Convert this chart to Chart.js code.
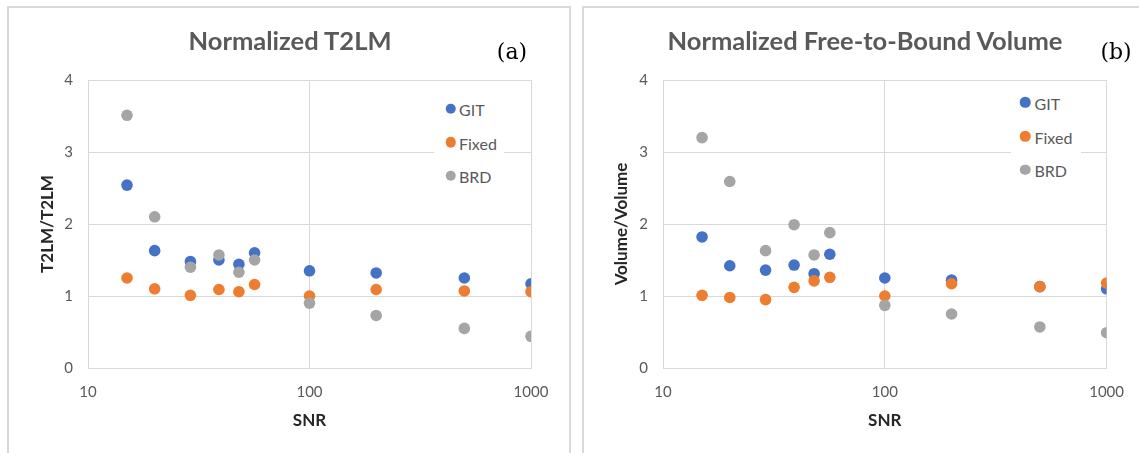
<!DOCTYPE html>
<html lang="en">
<head>
<meta charset="UTF-8">
<title>Normalized T2LM and Free-to-Bound Volume</title>
<script src="https://cdn.jsdelivr.net/npm/chart.js"></script>
<style>
  body { margin: 0; background: #fff; width: 1139px; height: 453px; overflow: hidden; position: relative; font-family: Lato, sans-serif; }
  .panel { position: absolute; top: 6px; border: 2px solid #d9d9d9; border-bottom: none; height: 460px; }
  canvas { position: absolute; top: 0; }
  .title { position: absolute; transform: translate(-50%, -50%); font: bold 25.5px Lato, sans-serif; color: #595959; white-space: nowrap; }
  .tag { position: absolute; transform: translate(-50%, -50%); font: 22px "DejaVu Serif", serif; color: #000; }
  .legend { position: absolute; background: #fff; width: 70px; height: 105px; }
  .item { position: absolute; font: 16px Lato, sans-serif; color: #595959; white-space: nowrap; transform: translateY(-50%); }
  .dot { position: absolute; width: 10.5px; height: 10.5px; border-radius: 50%; transform: translate(-50%, -50%); }
</style>
</head>
<body>
<div class="panel" style="left:7px; width:560px;"></div>
<div class="panel" style="left:582px; width:600px; border-right:none;"></div>

<canvas id="chartA" width="575" height="453" style="left:0;"></canvas>
<canvas id="chartB" width="564" height="453" style="left:575px;"></canvas>

<div class="title" style="left:290px; top:40px;">Normalized T2LM</div>
<div class="title" style="left:865px; top:40px;">Normalized Free-to-Bound Volume</div>
<div class="tag" style="left:512px; top:51px;">(a)</div>
<div class="tag" style="left:1116px; top:51px;">(b)</div>

<div class="legend" id="legendA" style="left:434px; top:90px;"></div>
<div class="legend" id="legendB" style="left:1011px; top:84px;"></div>

<script>
// SNR values (x) shared by both panels
const snr = [15, 20, 29, 39, 48, 56.5, 100, 200, 500, 1000];

// (a) Normalized T2LM
const gitA   = [2.54, 1.63, 1.48, 1.50, 1.44, 1.60, 1.35, 1.32, 1.25, 1.17];
const fixedA = [1.25, 1.10, 1.01, 1.09, 1.06, 1.16, 1.00, 1.09, 1.07, 1.06];
const brdA   = [3.51, 2.10, 1.40, 1.57, 1.33, 1.50, 0.90, 0.73, 0.55, 0.44];

// (b) Normalized Free-to-Bound Volume
const gitB   = [1.82, 1.42, 1.36, 1.43, 1.31, 1.58, 1.25, 1.22, 1.13, 1.10];
const fixedB = [1.01, 0.98, 0.95, 1.12, 1.21, 1.26, 1.00, 1.17, 1.13, 1.18];
const brdB   = [3.20, 2.59, 1.63, 1.99, 1.57, 1.88, 0.87, 0.75, 0.57, 0.49];

const xTicks = [10, 100, 1000];
const yTicks = [0, 1, 2, 3, 4];
const seriesNames = ['GIT', 'Fixed', 'BRD'];
const seriesColors = ['#4472C4', '#ED7D31', '#A5A5A5'];

const gridColor = '#d9d9d9';
const tickColor = '#595959';

function makeChart(id, series, yTitle, o) {
  const datasets = series.map((vals, i) => ({
    label: seriesNames[i],
    data: snr.map((x, j) => ({ x: x, y: vals[j] })),
    backgroundColor: seriesColors[i],
    borderColor: seriesColors[i],
    order: series.length - 1 - i   // later series drawn on top
  }));

  return new Chart(document.getElementById(id), {
    type: 'scatter',
    data: { datasets: datasets },
    options: {
      responsive: false,
      animation: false,
      devicePixelRatio: 1,
      layout: { padding: { left: 0, right: o.padRight, top: 80, bottom: 0 } },
      elements: { point: { radius: 5.8, borderWidth: 0, hoverRadius: 5.8 } },
      plugins: {
        legend: { display: false },
        title: { display: false },
        tooltip: { enabled: false }
      },
      scales: {
        x: {
          type: 'logarithmic',
          min: 10,
          max: 1000,
          afterBuildTicks: s => { s.ticks = xTicks.map(v => ({ value: v })); },
          afterFit: s => { s.height = o.xHeight; },
          ticks: {
            callback: v => String(v),
            padding: 15,
            color: tickColor,
            font: { family: 'Lato', size: 15 },
            maxRotation: 0
          },
          grid: { color: gridColor, drawTicks: false },
          border: { color: gridColor },
          title: {
            display: true,
            text: 'SNR',
            color: '#262626',
            font: { family: 'Lato', size: 17, weight: 'bold' },
            padding: { top: 0, bottom: 22 }
          }
        },
        y: {
          min: 0,
          max: 4,
          afterBuildTicks: s => { s.ticks = yTicks.map(v => ({ value: v })); },
          afterFit: s => { s.width = o.yWidth; },
          ticks: {
            padding: 15,
            color: tickColor,
            font: { family: 'Lato', size: 15 }
          },
          grid: { color: gridColor, drawTicks: false },
          border: { color: gridColor },
          title: {
            display: true,
            text: yTitle,
            color: '#262626',
            font: { family: 'Lato', size: 17, weight: 'bold' },
            padding: { top: o.yTitlePad, bottom: 0 }
          }
        }
      }
    }
  });
}

function makeLegend(id, dotX, textX, rowY) {
  const box = document.getElementById(id);
  const r = box.getBoundingClientRect();
  seriesNames.forEach((name, i) => {
    const dot = document.createElement('div');
    dot.className = 'dot';
    dot.style.left = (dotX - r.left) + 'px';
    dot.style.top = (rowY[i] - r.top) + 'px';
    dot.style.background = seriesColors[i];
    box.appendChild(dot);
    const txt = document.createElement('div');
    txt.className = 'item';
    txt.style.left = (textX - r.left) + 'px';
    txt.style.top = (rowY[i] - r.top + 0.5) + 'px';
    txt.textContent = name;
    box.appendChild(txt);
  });
}

makeChart('chartA', [gitA, fixedA, brdA], 'T2LM/T2LM',
  { padRight: 44, xHeight: 85, yWidth: 88, yTitlePad: 37 });
makeChart('chartB', [gitB, fixedB, brdB], 'Volume/Volume',
  { padRight: 32, xHeight: 85, yWidth: 88, yTitlePad: 36 });

makeLegend('legendA', 450.5, 459, [108.5, 142.2, 175.8]);
makeLegend('legendB', 1025.4, 1034.5, [102.3, 136, 169.5]);
</script>
</body>
</html>
